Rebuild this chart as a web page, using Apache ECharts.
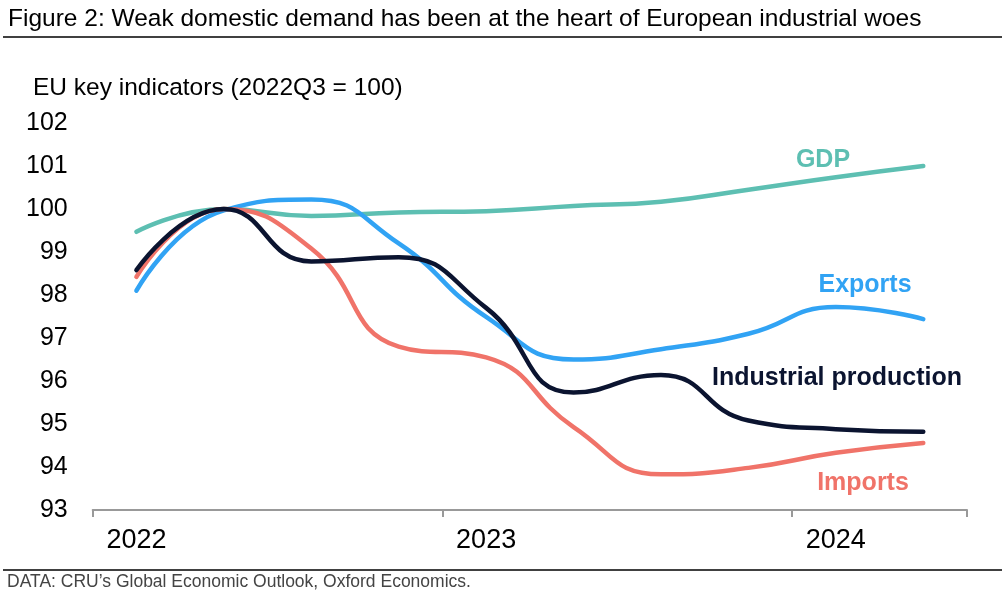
<!DOCTYPE html>
<html>
<head>
<meta charset="utf-8">
<script src="https://cdn.jsdelivr.net/npm/echarts@6/dist/echarts.min.js"></script>
<style>
html,body{margin:0;padding:0;background:#fff;}
#chart{width:1005px;height:600px;}
</style>
</head>
<body>
<div id="chart"></div>
<script>
var quarters = ['2022Q1','2022Q2','2022Q3','2022Q4','2023Q1','2023Q2','2023Q3','2023Q4','2024Q1','2024Q2'];
var gdp        = [99.47, 100.0, 99.84, 99.92, 99.95, 100.07, 100.17, 100.45, 100.74, 101.0];
var exportsV   = [98.10, 99.97, 100.22, 99.20, 97.49, 96.50, 96.74, 97.10, 97.72, 97.44];
var industrial = [98.58, 100.0, 98.78, 98.88, 97.70, 95.73, 96.14, 95.08, 94.88, 94.82];
var importsV   = [98.42, 100.0, 99.08, 96.80, 96.55, 94.93, 93.83, 93.98, 94.33, 94.56];
var yTicks = {min: 93, max: 102, step: 1};

var C_GDP = '#5DBFB2', C_EXP = '#31A3F4', C_IND = '#0B1430', C_IMP = '#F07369';

var chart = echarts.init(document.getElementById('chart'), null, {renderer: 'canvas'});
function line(name, data, color) {
  return {
    name: name, type: 'line', data: data, smooth: 0.5, symbol: 'none',
    lineStyle: {color: color, width: 4.5, cap: 'round'}, itemStyle: {color: color}
  };
}
var FONT = 'Liberation Sans, Arial, sans-serif';
chart.setOption({
  animation: false,
  backgroundColor: '#fff',
  grid: {left: 92.7, right: 38, top: 123, bottom: 90, containLabel: false},
  xAxis: {
    type: 'category', data: quarters, boundaryGap: true,
    axisLine: {lineStyle: {color: '#999', width: 2}},
    axisTick: {show: true, length: 7, lineStyle: {color: '#999', width: 2},
      interval: function (i) { return i % 4 === 0; }},
    axisLabel: {
      interval: function (i) { return i % 4 === 0; },
      formatter: function (v) { return v.slice(0, 4); },
      color: '#000', fontSize: 27, fontFamily: FONT, margin: 17
    },
    splitLine: {show: false}
  },
  yAxis: {
    type: 'value', min: yTicks.min, max: yTicks.max, interval: yTicks.step,
    axisLine: {show: false}, axisTick: {show: false}, splitLine: {show: false},
    axisLabel: {color: '#000', fontSize: 25, fontFamily: FONT, margin: 25}
  },
  series: [
    line('GDP', gdp, C_GDP),
    line('Exports', exportsV, C_EXP),
    line('Imports', importsV, C_IMP),
    line('Industrial production', industrial, C_IND)
  ],
  graphic: [
    {type: 'text', left: 8, top: 7, style: {text: 'Figure 2: Weak domestic demand has been at the heart of European industrial woes', fill: '#000', font: '24.5px ' + FONT}},
    {type: 'line', shape: {x1: 3, y1: 37, x2: 1002, y2: 37}, style: {stroke: '#000', lineWidth: 1.5}},
    {type: 'text', left: 33, top: 76, style: {text: 'EU key indicators (2022Q3 = 100)', fill: '#000', font: '24.5px ' + FONT}},
    {type: 'line', shape: {x1: 3, y1: 570, x2: 1002, y2: 570}, style: {stroke: '#000', lineWidth: 1.5}},
    {type: 'text', left: 7, top: 573, style: {text: 'DATA: CRU\u2019s Global Economic Outlook, Oxford Economics.', fill: '#444', font: '17.5px ' + FONT}},
    {type: 'text', x: 823, y: 160, style: {text: 'GDP', fill: C_GDP, font: 'bold 25px ' + FONT, align: 'center', verticalAlign: 'middle'}},
    {type: 'text', x: 865, y: 285, style: {text: 'Exports', fill: C_EXP, font: 'bold 25px ' + FONT, align: 'center', verticalAlign: 'middle'}},
    {type: 'text', x: 837, y: 378, style: {text: 'Industrial production', fill: C_IND, font: 'bold 25px ' + FONT, align: 'center', verticalAlign: 'middle'}},
    {type: 'text', x: 863, y: 483, style: {text: 'Imports', fill: C_IMP, font: 'bold 25px ' + FONT, align: 'center', verticalAlign: 'middle'}}
  ]
});
</script>
</body>
</html>
